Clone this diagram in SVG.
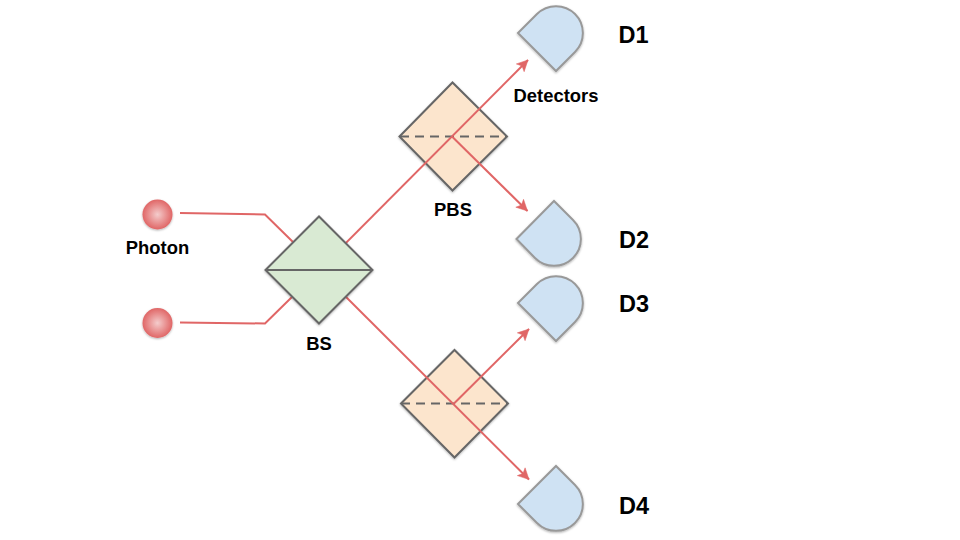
<svg xmlns="http://www.w3.org/2000/svg" width="960" height="540" viewBox="0 0 960 540">
<style>
text{font-family:"Liberation Sans",Arial,sans-serif;font-weight:700;fill:#000;text-anchor:middle}
.lbl{font-size:18.4px}
.big{font-size:23.500px}
.wire{fill:none;stroke:#e06666;stroke-width:2;stroke-linejoin:miter}
.arrow{marker-end:url(#head)}
.bs{fill:#d9ead3;stroke:#666;stroke-width:2;stroke-linejoin:miter;filter:url(#sh)}
.pbs{fill:#fce5cd;stroke:#666;stroke-width:2;filter:url(#sh)}
.split{stroke:#666;stroke-width:2;fill:none}
.dash{stroke-dasharray:9 6}
.det{fill:#cfe2f3;stroke:#999;stroke-width:2;filter:url(#sh)}
.ph{fill:url(#pg);filter:url(#sh)}
</style>
<defs>
<radialGradient id="pg"><stop offset="0" stop-color="#f4cccc"/><stop offset="1" stop-color="#e06666"/></radialGradient>
<filter id="sh" x="-20%" y="-20%" width="140%" height="140%"><feDropShadow dx="0" dy="1" stdDeviation="1" flood-color="#000" flood-opacity="0.3"/></filter>
<marker id="head" markerUnits="userSpaceOnUse" markerWidth="14" markerHeight="14" refX="12" refY="7" orient="auto"><path d="M1,1.500 L12,7 L1,12.500 L3.500,7 Z" fill="#e06666" stroke="#e06666" stroke-width="0.500"/></marker>
</defs>
<rect width="960" height="540" fill="#fff"/>
<g id="pbs-top"><path class="pbs" d="M399.500,136.500 L452.500,82.500 L507,136.500 L452.500,190.500 Z"/><path class="split dash" d="M400,136.500 H507"/></g>
<g id="pbs-bottom"><path class="pbs" d="M401,403.500 L454.500,350 L508,403.500 L454.500,457.500 Z"/><path class="split dash" d="M401,403.500 H508"/></g>
<g id="connectors">
<path class="wire" d="M180,213 L265,214.500 L295,244"/>
<path class="wire" d="M180,322.500 L265,323.500 L295,294"/>
<path class="wire arrow" d="M319,270 L528,60"/>
<path class="wire arrow" d="M319,270 L529,479.500"/>
<path class="wire arrow" d="M452,136.500 L527.500,211"/>
<path class="wire arrow" d="M454,403.500 L529,329"/>
</g>
<g id="photon-1"><circle class="ph" cx="157.500" cy="214.500" r="15"/><text class="lbl" x="157.500" y="254">Photon</text></g>
<g id="photon-2"><circle class="ph" cx="157.500" cy="323" r="15"/></g>
<g id="bs"><path class="bs" d="M265.500,270 L319,216.500 L372.500,270 L319,323.500 Z"/><path class="split" d="M266,270 H372"/><text class="lbl" x="319" y="350">BS</text></g>
<text class="lbl" x="453" y="216">PBS</text>
<g id="d1"><path class="det" d="M518,33 L537,14 A26,26 0 0 1 575,52 L556,71 Z"/><text class="big" x="633.500" y="42.500">D1</text></g>
<text class="lbl" x="556" y="102">Detectors</text>
<g id="d2"><path class="det" d="M516.500,239 L554,201 L573,220 A26,26 0 0 1 535,258 Z"/><text class="big" x="634" y="247.500">D2</text></g>
<g id="d3"><path class="det" d="M518,303 L537,284 A26,26 0 0 1 575,322 L556,341 Z"/><text class="big" x="634" y="311.500">D3</text></g>
<g id="d4"><path class="det" d="M518,504 L556,466 L575,485 A26,26 0 0 1 537,523 Z"/><text class="big" x="634" y="513.500">D4</text></g>
</svg>
